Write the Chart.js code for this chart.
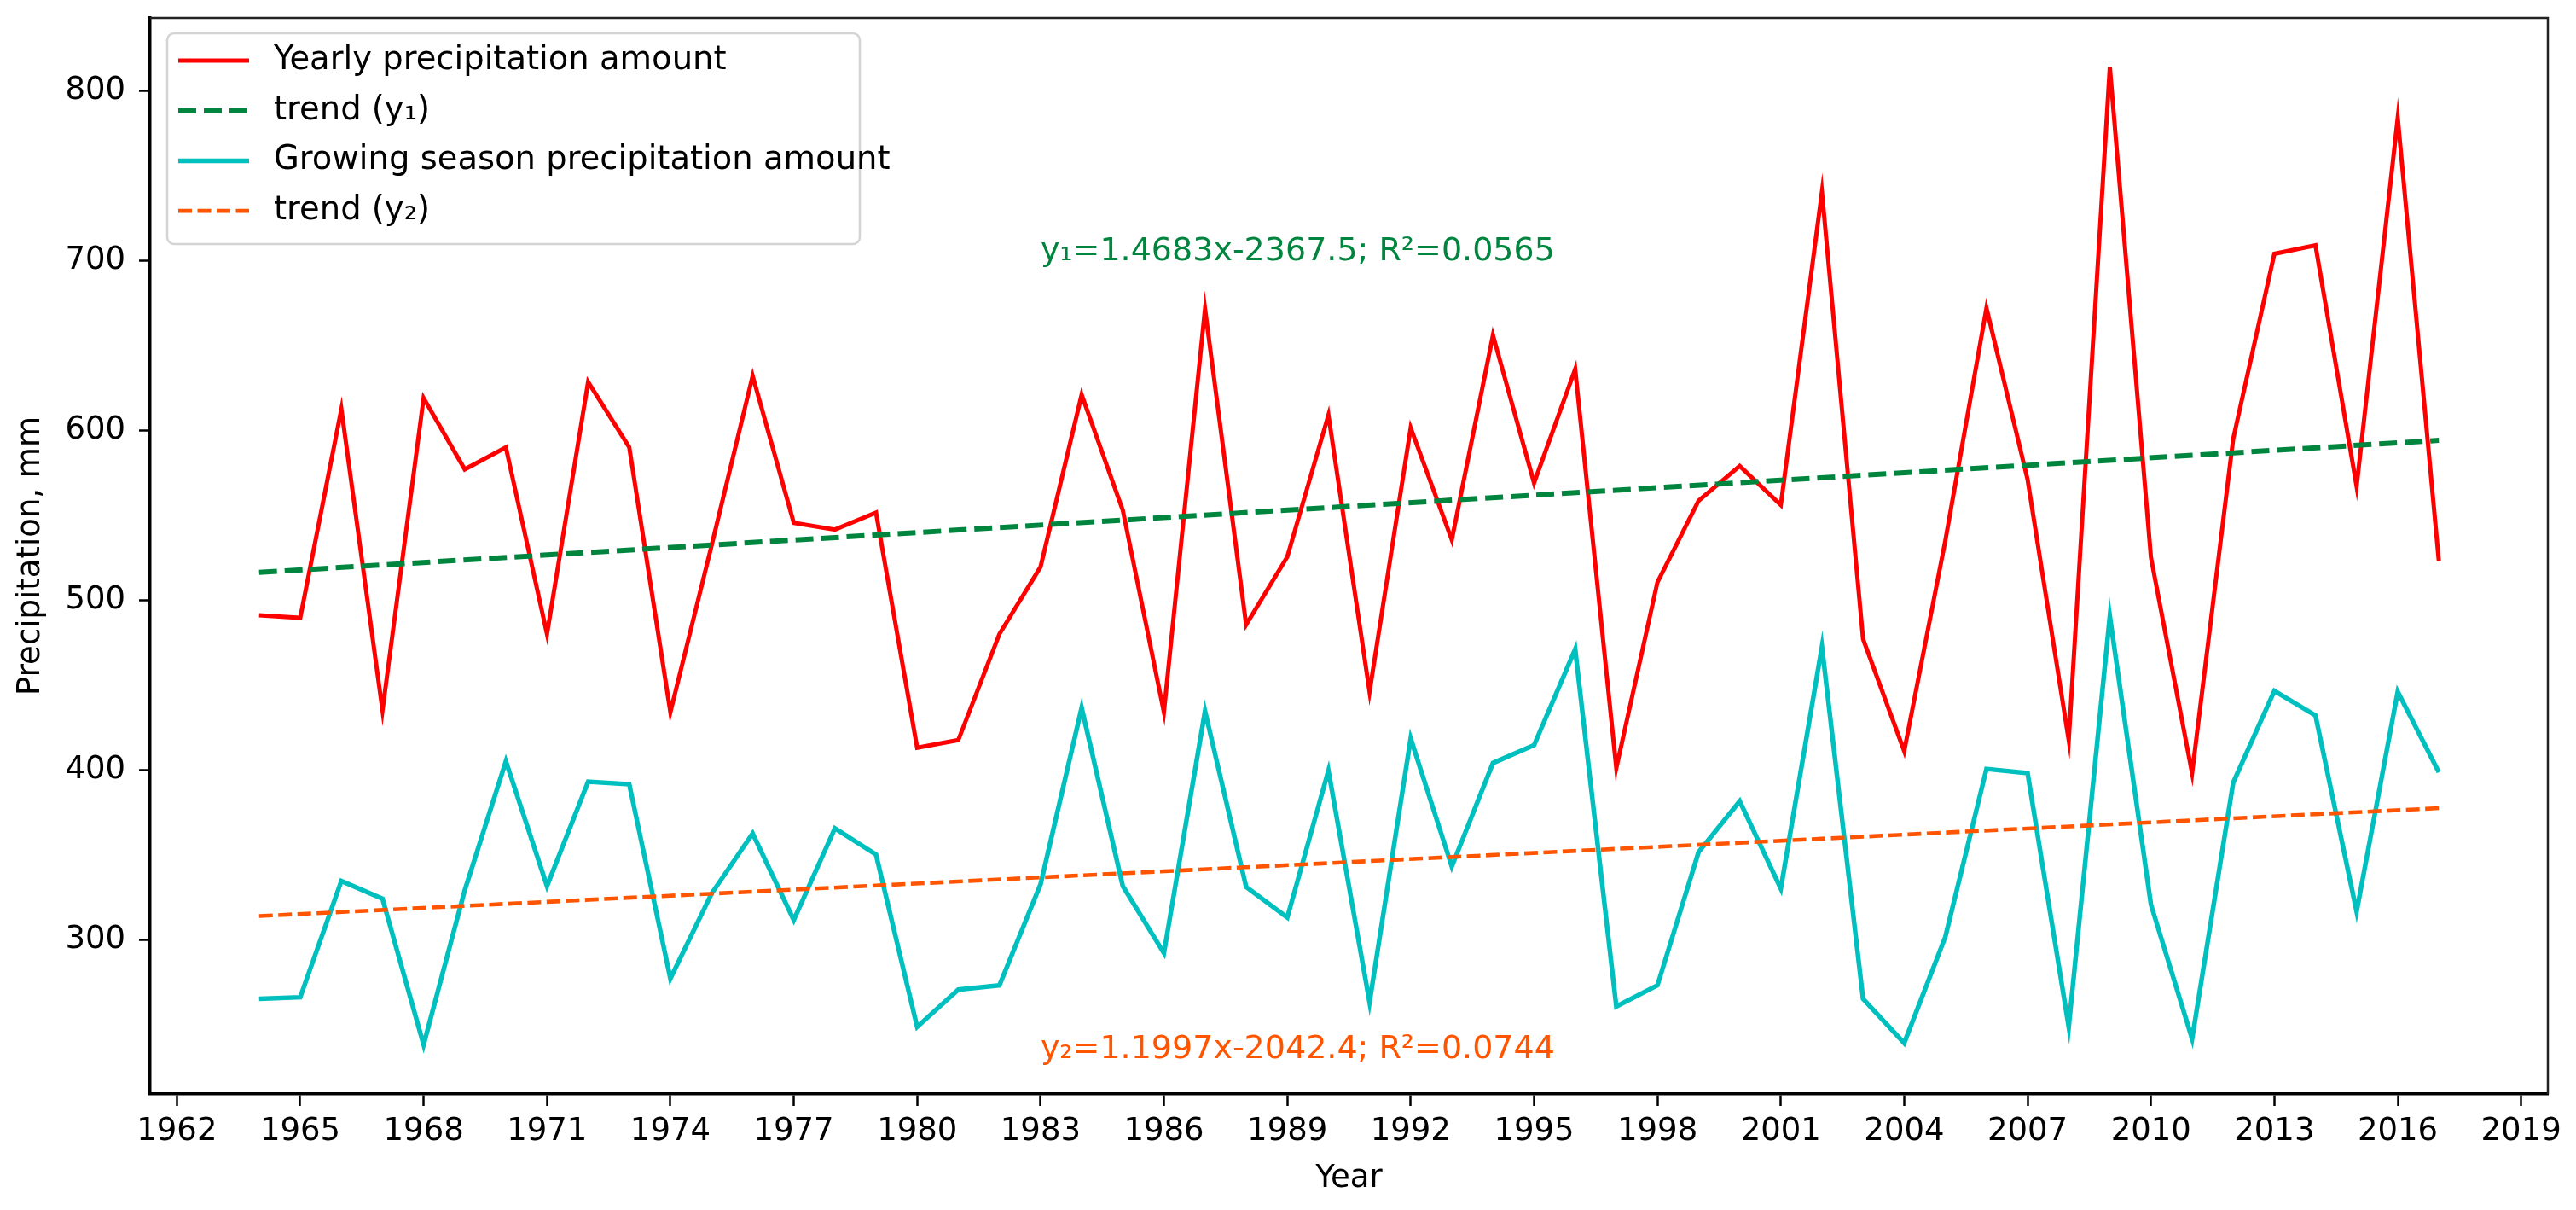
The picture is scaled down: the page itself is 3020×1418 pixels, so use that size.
<!DOCTYPE html>
<html>
<head>
    <title>Precipitation trends</title>
    <script src="https://cdn.jsdelivr.net/npm/chart.js"></script>
    <style>
        body {
            margin: 0;
            padding: 0;
            background: #ffffff;
        }

        .chart-wrapper {
            width: 3020px;
            height: 1418px;
        }
    </style>
</head>
<body>
<div class="chart-wrapper">
    <canvas id="precipChart" width="3020" height="1418"></canvas>
</div>

<script>
    // Values
    const years = [1964, 1965, 1966, 1967, 1968, 1969, 1970, 1971, 1972, 1973,
        1974, 1975, 1976, 1977, 1978, 1979, 1980, 1981, 1982, 1983,
        1984, 1985, 1986, 1987, 1988, 1989, 1990, 1991, 1992, 1993,
        1994, 1995, 1996, 1997, 1998, 1999, 2000, 2001, 2002, 2003,
        2004, 2005, 2006, 2007, 2008, 2009, 2010, 2011, 2012, 2013,
        2014, 2015, 2016, 2017];

    const yearlyPrecip = [491, 489.5, 612.5, 435, 619, 577, 590, 480, 628.5, 590,
        434, 532, 632, 545.5, 541.5, 551.5, 413, 417.5, 480, 519.5,
        621, 553, 434, 671.5, 485.5, 525.5, 609, 446, 601.5, 535.5,
        656, 569, 636, 401, 510.5, 558.5, 579, 556, 740.5, 477,
        411, 535, 672, 571, 417.5, 814, 525, 398, 595, 704,
        709, 567, 784, 523];

    const growingPrecip = [265, 266, 334.5, 324, 238, 329, 405, 331.5, 393, 391.5,
        277, 327, 362.5, 311.5, 365.5, 350, 248.5, 270.5, 273, 332.5,
        436.5, 331.5, 292, 434.5, 331, 313, 399.5, 263, 418.5, 343,
        404, 414.5, 471, 260.5, 273, 351.5, 381.5, 330, 472.5, 265,
        239, 301.5, 400.5, 398, 248.5, 490.5, 320.5, 241.5, 392.5, 446.5,
        432, 316.5, 446, 398.5];

    // trend lines: end points
    const trendYears = [1964, 2017];
    const trendYearly = [516.3, 594.1];
    const trendGrowing = [313.8, 377.4];

    const xTicks = [1962, 1965, 1968, 1971, 1974, 1977, 1980, 1983, 1986, 1989,
        1992, 1995, 1998, 2001, 2004, 2007, 2010, 2013, 2016, 2019];
    const yTicks = [300, 400, 500, 600, 700, 800];

    const noteX = [1983, 1983];
    const noteY = [700, 230];
    const noteText = ['y\u2081=1.4683x-2367.5; R\u00b2=0.0565', 'y\u2082=1.1997x-2042.4; R\u00b2=0.0744'];
    const noteColor = ['#00853f', '#ff5500'];

    const FONT = '"DejaVu Sans", "Liberation Sans", sans-serif';

    function toPoints(xs, ys) {
        return xs.map((x, i) => ({ x: x, y: ys[i] }));
    }

    // Legend, frame and equation texts
    const extrasPlugin = {
        id: 'extras',
        afterDatasetsDraw(chart) {
            const ctx = chart.ctx;
            const area = chart.chartArea;
            const xs = chart.scales.x;
            const ys = chart.scales.y;

            ctx.save();
            // top and right spines
            ctx.strokeStyle = '#222';
            ctx.lineWidth = 2.5;
            ctx.beginPath();
            ctx.moveTo(area.left, area.top);
            ctx.lineTo(area.right, area.top);
            ctx.lineTo(area.right, area.bottom);
            ctx.stroke();

            // equations
            ctx.font = '38px ' + FONT;
            ctx.textAlign = 'left';
            ctx.textBaseline = 'alphabetic';
            noteText.forEach((t, i) => {
                ctx.fillStyle = noteColor[i];
                ctx.fillText(t, xs.getPixelForValue(noteX[i]), ys.getPixelForValue(noteY[i]));
            });

            // legend box
            const bx = 196, by = 39, bw = 812, bh = 247;
            ctx.fillStyle = 'rgba(255,255,255,0.85)';
            ctx.strokeStyle = '#d4d4d4';
            ctx.lineWidth = 2.5;
            ctx.beginPath();
            ctx.roundRect(bx, by, bw, bh, 8);
            ctx.fill();
            ctx.stroke();

            ctx.textBaseline = 'middle';
            ctx.font = '38.5px ' + FONT;
            chart.data.datasets.forEach((ds, i) => {
                const cy = 71 + i * 58.7;
                ctx.strokeStyle = ds.borderColor;
                ctx.lineWidth = ds.borderWidth;
                ctx.setLineDash(ds.borderDash || []);
                ctx.beginPath();
                ctx.moveTo(209, cy);
                ctx.lineTo(292, cy);
                ctx.stroke();
                ctx.setLineDash([]);
                ctx.fillStyle = '#000';
                ctx.fillText(ds.label, 321, cy);
            });
            ctx.restore();
        }
    };

    const ctx = document.getElementById('precipChart').getContext('2d');

    const chart = new Chart(ctx, {
        type: 'line',
        data: {
            datasets: [
                {
                    label: 'Yearly precipitation amount',
                    data: toPoints(years, yearlyPrecip),
                    borderColor: '#ff0000',
                    borderWidth: 5,
                    order: 4
                },
                {
                    label: 'trend (y\u2081)',
                    data: toPoints(trendYears, trendYearly),
                    borderColor: '#00853f',
                    borderWidth: 6,
                    borderDash: [21, 9],
                    order: 3
                },
                {
                    label: 'Growing season precipitation amount',
                    data: toPoints(years, growingPrecip),
                    borderColor: '#00bfbf',
                    borderWidth: 5.5,
                    order: 2
                },
                {
                    label: 'trend (y\u2082)',
                    data: toPoints(trendYears, trendGrowing),
                    borderColor: '#ff5500',
                    borderWidth: 4.6,
                    borderDash: [16, 6.5],
                    order: 1
                }
            ]
        },
        options: {
            responsive: false,
            devicePixelRatio: 1,
            animation: false,
            layout: { padding: { top: 21, right: 33, left: 0, bottom: 0 } },
            elements: {
                point: { radius: 0 },
                line: { tension: 0, fill: false, borderCapStyle: 'butt' }
            },
            plugins: {
                legend: { display: false },
                tooltip: { enabled: false }
            },
            scales: {
                x: {
                    type: 'linear',
                    min: 1961.35,
                    max: 2019.65,
                    afterBuildTicks(scale) {
                        scale.ticks = xTicks.map(v => ({ value: v }));
                    },
                    afterFit(scale) {
                        scale.height = 136;
                        scale.paddingLeft = 0;
                        scale.paddingRight = 0;
                    },
                    ticks: {
                        autoSkip: false,
                        maxRotation: 0,
                        padding: 8,
                        color: '#000',
                        font: { family: FONT, size: 37 },
                        callback: v => String(v)
                    },
                    grid: {
                        drawOnChartArea: false,
                        drawTicks: true,
                        tickLength: 14,
                        tickWidth: 2.5,
                        color: '#000'
                    },
                    border: { display: true, color: '#000', width: 3.5 },
                    title: {
                        display: true,
                        text: 'Year',
                        color: '#000',
                        font: { family: FONT, size: 37 },
                        padding: { top: 0, bottom: 14 }
                    }
                },
                y: {
                    min: 209,
                    max: 843,
                    afterBuildTicks(scale) {
                        scale.ticks = yTicks.map(v => ({ value: v }));
                    },
                    afterFit(scale) {
                        scale.width = 176;
                        scale.paddingTop = 0;
                        scale.paddingBottom = 0;
                    },
                    ticks: {
                        padding: 16,
                        color: '#000',
                        font: { family: FONT, size: 37 },
                        callback: v => String(v)
                    },
                    grid: {
                        drawOnChartArea: false,
                        drawTicks: true,
                        tickLength: 13,
                        tickWidth: 2.5,
                        color: '#000'
                    },
                    border: { display: true, color: '#000', width: 3.5 },
                    title: {
                        display: true,
                        text: 'Precipitation, mm',
                        color: '#000',
                        font: { family: FONT, size: 37 },
                        padding: { top: 14, bottom: 0 }
                    }
                }
            }
        },
        plugins: [extrasPlugin]
    });
</script>
</body>
</html>
